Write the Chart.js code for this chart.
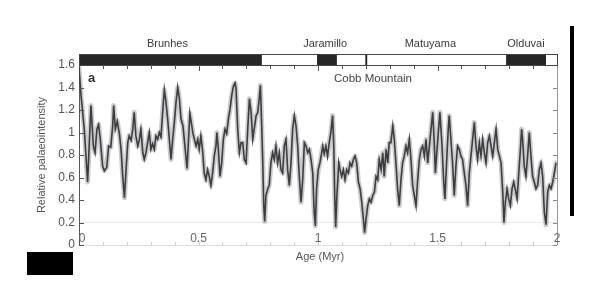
<!DOCTYPE html>
<html><head><meta charset="utf-8">
<script src="https://cdn.jsdelivr.net/npm/chart.js@4/dist/chart.umd.min.js"></script>
<style>
html,body{margin:0;padding:0;background:#fff;}
#wrap{position:relative;width:600px;height:300px;}
canvas{display:block}
#vbar{position:absolute;left:570px;top:26px;width:4px;height:190px;background:#000;}
#blk{position:absolute;left:27px;top:252px;width:46px;height:23px;background:#000;}
</style></head><body>
<div id="wrap"><canvas id="c" width="600" height="300"></canvas><div id="vbar"></div><div id="blk"></div></div>
<script>
// Age (Myr)
const ages = [
0.000,0.008,0.022,0.036,0.050,0.060,0.067,0.075,0.082,0.089,
0.099,0.106,0.116,0.124,0.133,0.141,0.145,0.152,0.160,0.169,
0.176,0.183,0.190,0.197,0.204,0.210,0.218,0.225,0.231,0.238,
0.246,0.252,0.259,0.267,0.273,0.280,0.287,0.294,0.301,0.308,
0.315,0.322,0.329,0.336,0.343,0.350,0.357,0.364,0.371,0.378,
0.385,0.392,0.399,0.406,0.413,0.420,0.427,0.435,0.452,0.464,
0.477,0.490,0.497,0.503,0.510,0.518,0.524,0.531,0.538,0.545,
0.552,0.559,0.566,0.573,0.577,0.583,0.590,0.597,0.604,0.611,
0.618,0.625,0.632,0.639,0.646,0.653,0.657,0.664,0.671,0.678,
0.685,0.692,0.699,0.706,0.713,0.720,0.727,0.733,0.741,0.748,
0.754,0.759,0.764,0.769,0.773,0.777,0.782,0.790,0.796,0.803,
0.810,0.817,0.824,0.831,0.838,0.845,0.852,0.859,0.866,0.873,
0.880,0.887,0.894,0.901,0.908,0.915,0.921,0.929,0.936,0.943,
0.950,0.957,0.964,0.971,0.978,0.984,0.989,0.994,1.001,1.008,
1.013,1.020,1.026,1.033,1.040,1.047,1.054,1.061,1.066,1.070,
1.074,1.079,1.087,1.092,1.099,1.106,1.113,1.120,1.127,1.134,
1.141,1.148,1.155,1.162,1.169,1.176,1.183,1.190,1.195,1.201,
1.208,1.215,1.222,1.229,1.236,1.243,1.250,1.256,1.264,1.271,
1.277,1.285,1.292,1.298,1.305,1.313,1.319,1.326,1.333,1.340,
1.347,1.354,1.361,1.368,1.375,1.382,1.389,1.396,1.403,1.410,
1.417,1.424,1.431,1.438,1.445,1.452,1.459,1.466,1.473,1.480,
1.487,1.491,1.498,1.510,1.519,1.526,1.531,1.538,1.545,1.549,
1.556,1.563,1.570,1.577,1.584,1.591,1.598,1.605,1.612,1.619,
1.626,1.633,1.640,1.647,1.654,1.661,1.668,1.675,1.682,1.689,
1.696,1.703,1.710,1.717,1.724,1.731,1.738,1.745,1.752,1.759,
1.766,1.773,1.778,1.784,1.791,1.798,1.805,1.812,1.819,1.825,
1.833,1.840,1.846,1.852,1.856,1.863,1.870,1.877,1.884,1.891,
1.898,1.905,1.912,1.919,1.926,1.933,1.940,1.947,1.954,1.961,
1.968,1.975,1.982,1.989,1.996
];
// Relative palaeointensity
const intensity = [
1.58,1.34,1.03,0.56,1.24,0.88,0.82,1.03,1.07,0.94,
0.70,0.66,0.69,0.88,0.87,1.06,1.24,1.03,1.10,0.99,
0.85,0.61,0.42,0.67,0.91,0.97,0.93,1.03,1.18,0.97,
0.88,0.93,1.03,0.82,0.76,0.82,0.91,1.00,0.85,0.90,
0.85,0.97,0.94,1.00,0.96,1.18,1.38,1.27,1.12,0.94,
0.76,0.94,1.09,1.27,1.40,1.30,1.12,1.06,0.68,1.17,
0.99,0.88,0.94,0.85,0.97,0.82,0.64,0.58,0.67,0.61,
0.53,0.64,0.79,0.88,1.00,0.85,0.61,0.73,0.94,1.03,
0.99,1.12,1.21,1.33,1.41,1.44,1.39,1.03,0.82,0.91,
0.91,0.76,0.73,1.03,1.30,1.18,0.94,1.03,1.15,1.18,
1.30,1.42,1.09,0.73,0.35,0.21,0.44,0.50,0.53,0.73,
0.82,0.76,0.88,0.73,0.82,0.67,0.64,0.88,0.94,0.67,
0.53,0.73,1.03,1.15,1.06,0.88,0.64,0.38,0.58,0.91,
0.88,0.82,0.85,0.76,0.64,0.29,0.17,0.50,0.67,0.73,
0.79,0.88,0.81,0.88,0.79,0.91,1.00,1.15,0.88,0.44,
0.16,0.44,0.73,0.67,0.61,0.67,0.58,0.67,0.64,0.73,
0.70,0.76,0.79,0.73,0.56,0.50,0.38,0.23,0.11,0.23,
0.35,0.41,0.38,0.44,0.47,0.61,0.58,0.76,0.67,0.82,
0.61,0.85,0.73,0.91,0.91,1.06,0.94,0.73,0.50,0.35,
0.58,0.73,0.79,0.88,0.82,0.94,0.76,0.53,0.44,0.35,
0.58,0.76,0.85,0.88,0.79,0.94,0.73,0.88,1.03,1.18,
0.88,0.64,0.85,1.18,0.88,0.56,0.41,0.73,1.03,1.15,
0.94,0.73,0.44,0.70,0.88,0.85,0.79,0.76,0.64,0.53,
0.35,0.64,0.79,0.94,1.09,0.88,0.76,0.91,0.79,0.94,
0.82,0.73,0.91,0.97,0.88,0.79,0.91,1.03,0.85,0.79,
0.73,0.47,0.20,0.38,0.50,0.41,0.35,0.50,0.56,0.50,
0.41,0.64,0.82,1.03,0.94,0.70,0.61,0.79,1.00,0.79,
0.61,0.56,0.50,0.53,0.67,0.73,0.61,0.29,0.18,0.47,
0.53,0.50,0.56,0.64,0.73
];
// Polarity chrons (normal = black)
const normalStart = [0, 0.996, 1.198, 1.787];
const normalEnd   = [0.765, 1.079, 1.206, 1.954];
const chronNames  = ['Brunhes', 'Jaramillo', 'Matuyama', 'Olduvai'];
const chronLabelAge = [0.37, 1.03, 1.47, 1.87];
const xTickValues = [0, 0.5, 1, 1.5, 2];
const xTickLabels = ['0', '0.5', '1', '1.5', '2'];
const yTickValues = [0, 0.2, 0.4, 0.6, 0.8, 1, 1.2, 1.4, 1.6];
const minorXStep = 0.1;

const FONT = '"Liberation Sans", Arial, Helvetica, sans-serif';
const pts = ages.map((a, i) => ({x: a, y: intensity[i]}));

const decor = {
  id: 'decor',
  afterDraw(chart) {
    const {ctx, chartArea: ca, scales: {x, y}} = chart;
    ctx.save();
    // frame lines
    ctx.lineWidth = 1;
    ctx.strokeStyle = '#999';
    ctx.beginPath(); ctx.moveTo(ca.right + 0.5, ca.top); ctx.lineTo(ca.right + 0.5, ca.bottom); ctx.stroke();
    ctx.strokeStyle = '#ddd';
    ctx.beginPath(); ctx.moveTo(ca.left, ca.bottom + 0.5); ctx.lineTo(ca.right, ca.bottom + 0.5); ctx.stroke();
    // y inner ticks left & right
    yTickValues.forEach(v => {
      const py = Math.round(y.getPixelForValue(v)) + 0.5;
      ctx.strokeStyle = '#555';
      ctx.beginPath(); ctx.moveTo(ca.left, py); ctx.lineTo(ca.left + 5, py); ctx.stroke();
      ctx.strokeStyle = '#888';
      ctx.beginPath(); ctx.moveTo(ca.right, py); ctx.lineTo(ca.right - 4, py); ctx.stroke();
    });
    // polarity bar
    const barTop = ca.top - 11, barBot = ca.top;
    ctx.fillStyle = '#262626';
    normalStart.forEach((s, i) => {
      const x0 = x.getPixelForValue(s), x1 = x.getPixelForValue(normalEnd[i]);
      ctx.fillRect(x0, barTop, Math.max(1.5, x1 - x0), barBot - barTop);
    });
    ctx.strokeStyle = '#444';
    ctx.strokeRect(ca.left + 0.5, barTop + 0.5, ca.right - ca.left, barBot - barTop);
    // minor x ticks on bar bottom and plot bottom
    for (let k = 1; k < Math.round((x.max - x.min) / minorXStep); k++) {
      const v = x.min + k * minorXStep;
      const px = Math.round(x.getPixelForValue(v)) + 0.5;
      const major = Math.abs(v * 2 - Math.round(v * 2)) < 1e-6;
      ctx.strokeStyle = '#555';
      ctx.beginPath(); ctx.moveTo(px, barBot); ctx.lineTo(px, barBot + (major ? 6 : 4)); ctx.stroke();
      ctx.strokeStyle = '#ccc';
      ctx.beginPath(); ctx.moveTo(px, ca.bottom); ctx.lineTo(px, ca.bottom - 3); ctx.stroke();
    }
    // x tick labels (inside, just above the bottom line)
    ctx.font = '12px ' + FONT;
    ctx.fillStyle = '#666';
    ctx.textAlign = 'center';
    ctx.textBaseline = 'middle';
    xTickValues.forEach((v, i) => {
      const px = x.getPixelForValue(v) + (i === 0 ? 3 : 0);
      ctx.fillText(xTickLabels[i], px, ca.bottom - 6);
    });
    // chron labels
    ctx.fillStyle = '#3a3a3a';
    ctx.font = '11px ' + FONT;
    chronNames.forEach((n, i) => ctx.fillText(n, x.getPixelForValue(chronLabelAge[i]), 44));
    // panel letter and annotation
    ctx.font = 'bold 13px ' + FONT;
    ctx.textAlign = 'left';
    ctx.fillStyle = '#333';
    ctx.fillText('a', 88, 78);
    ctx.font = '11.5px ' + FONT;
    ctx.textAlign = 'center';
    ctx.fillStyle = '#444';
    ctx.fillText('Cobb Mountain', 373, 79);
    // axis titles
    ctx.font = '11px ' + FONT;
    ctx.fillStyle = '#555';
    ctx.fillText('Age (Myr)', 320, 257);
    ctx.translate(42, 155);
    ctx.rotate(-Math.PI / 2);
    ctx.fillText('Relative palaeointensity', 0, 0);
    ctx.restore();
  }
};

new Chart(document.getElementById('c'), {
  type: 'line',
  data: {
    datasets: [
      {data: pts, borderColor: 'rgba(105,105,115,0.35)', borderWidth: 5, pointRadius: 0, tension: 0, borderJoinStyle: 'round', borderCapStyle: 'round'},
      {data: pts, borderColor: '#252525', borderWidth: 1.6, pointRadius: 0, tension: 0}
    ]
  },
  options: {
    responsive: false,
    devicePixelRatio: 1,
    animation: false,
    layout: {padding: {left: 0, top: 65, right: 43, bottom: 45}},
    plugins: {legend: {display: false}, tooltip: {enabled: false}},
    scales: {
      x: {
        type: 'linear', min: 0, max: 2,
        afterFit: s => { s.height = 10; },
        afterBuildTicks: s => { s.ticks = xTickValues.map(v => ({value: v})); },
        ticks: {display: false},
        grid: {display: false, drawTicks: false},
        border: {display: false}
      },
      y: {
        min: 0, max: 1.6,
        afterFit: s => { s.width = 79; },
        afterBuildTicks: s => { s.ticks = yTickValues.map(v => ({value: v})); },
        ticks: {padding: 4, color: '#555', font: {size: 12, family: FONT},
                callback: v => String(+(+v).toFixed(1))},
        grid: {drawTicks: false, color: c => (Math.abs(c.tick.value - 0.2) < 1e-6 ? 'rgba(0,0,0,0.09)' : 'rgba(0,0,0,0)')},
        border: {display: true, color: '#555', width: 1}
      }
    }
  },
  plugins: [decor]
});
</script>
</body></html>
